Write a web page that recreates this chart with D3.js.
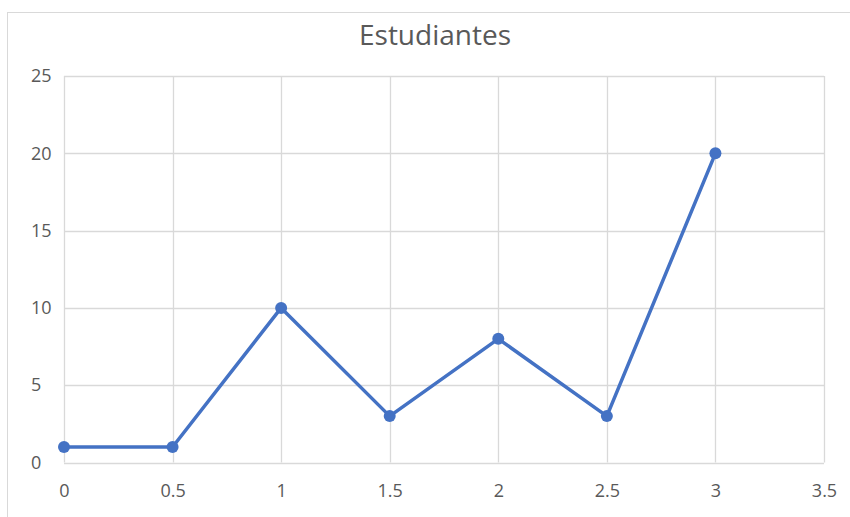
<!DOCTYPE html>
<html>
<head>
<meta charset="utf-8">
<script src="https://cdn.jsdelivr.net/npm/d3@7"></script>
<style>
  body { margin:0; background:#fff; }
  text { font-family: "Open Sans", "Liberation Sans", sans-serif; }
</style>
</head>
<body>
<div id="chart"></div>
<script>
let xValues = [0, 0.5, 1, 1.5, 2, 2.5, 3];
let yValues = [1, 1, 10, 3, 8, 3, 20];
let xTicks = [0, 0.5, 1, 1.5, 2, 2.5, 3, 3.5];
let yTicks = [0, 5, 10, 15, 20, 25];
let title = "Estudiantes";

let screen = {width:850, height:517};
let margin = {top:76, right:26, bottom:55, left:64};

let svg = d3.select("#chart")
    .append("svg")
    .attr("width", screen.width)
    .attr("height", screen.height);

// chart frame
svg.append("rect")
    .attr("x", 7.5).attr("y", 12.5)
    .attr("width", 860).attr("height", 520)
    .attr("fill", "#fff")
    .attr("stroke", "#d9d9d9");

let xScale = d3.scaleLinear()
    .domain([0, 3.5])
    .range([margin.left, screen.width - margin.right]);
let yScale = d3.scaleLinear()
    .domain([0, 25])
    .range([462.5, margin.top]);

// gridlines
svg.append("g").selectAll("line.h")
    .data(yTicks)
    .enter().append("line")
    .attr("x1", xScale(0)).attr("x2", xScale(3.5))
    .attr("y1", d => Math.round(yScale(d)) + 0.5)
    .attr("y2", d => Math.round(yScale(d)) + 0.5)
    .attr("stroke", "#d9d9d9").attr("stroke-width", 1.3);

svg.append("g").selectAll("line.v")
    .data(xTicks)
    .enter().append("line")
    .attr("y1", yScale(0)).attr("y2", yScale(25))
    .attr("x1", d => Math.round(xScale(d)) + 0.5)
    .attr("x2", d => Math.round(xScale(d)) + 0.5)
    .attr("stroke", "#d9d9d9").attr("stroke-width", 1.3);

// axes (labels only)
let xAxis = svg.append("g")
    .attr("transform", "translate(0," + (yScale(0) + 18.5) + ")")
    .call(d3.axisBottom(xScale).tickValues(xTicks).tickSize(0).tickFormat(d3.format("")));
let yAxis = svg.append("g")
    .attr("transform", "translate(55,0)")
    .call(d3.axisLeft(yScale).tickValues(yTicks).tickSize(0));

[xAxis, yAxis].forEach(function(a) {
    a.select(".domain").remove();
    a.selectAll("text")
        .attr("fill", "#595959")
        .style("font-size", "18px")
        .style("font-family", "'Open Sans', sans-serif");
});
// y labels sit left-aligned in the original
yAxis.selectAll("text")
    .attr("text-anchor", "start")
    .attr("x", -24);

// title
svg.append("text")
    .attr("x", 435).attr("y", 45)
    .attr("text-anchor", "middle")
    .attr("fill", "#595959")
    .style("font-size", "28px")
    .text(title);

// line + markers
let data = xValues.map((x, i) => ({x:x, y:yValues[i]}));
let line = d3.line().x(d => xScale(d.x)).y(d => yScale(d.y));

svg.append("path")
    .datum(data)
    .attr("d", line)
    .attr("fill", "none")
    .attr("stroke", "#4472c4")
    .attr("stroke-width", 3.5)
    .attr("stroke-linejoin", "round");

svg.selectAll("circle")
    .data(data)
    .enter().append("circle")
    .attr("cx", d => xScale(d.x))
    .attr("cy", d => yScale(d.y))
    .attr("r", 6)
    .attr("fill", "#4472c4");
</script>
</body>
</html>
